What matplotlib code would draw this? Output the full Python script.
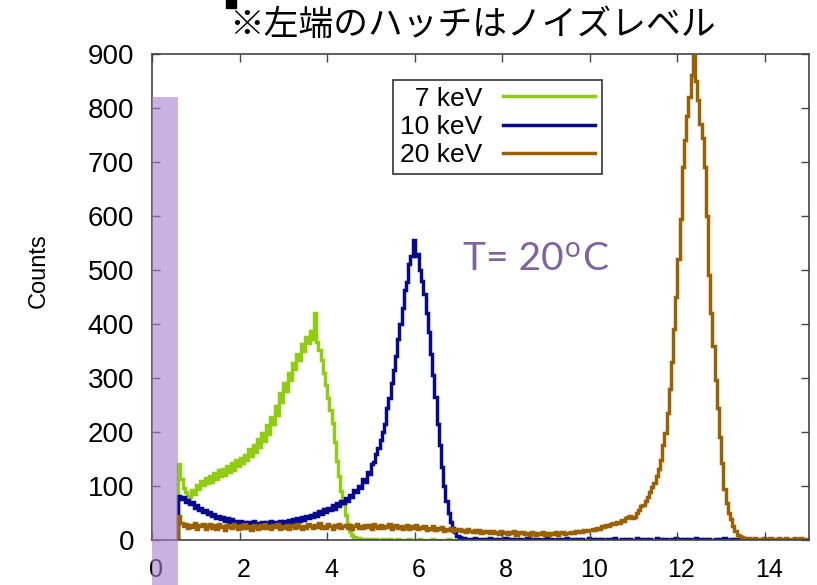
import numpy as np
import matplotlib
matplotlib.use("Agg")
import matplotlib.pyplot as plt
from matplotlib.patches import Rectangle
from matplotlib.transforms import ScaledTranslation

plt.rcParams['font.family'] = ['Liberation Sans', 'DejaVu Sans']

# histogram bins: 0.05 keV wide, first bin starts at 0.6 keV (noise cut)
bin_start = 0.6
bin_width = 0.05

# 7 keV spectrum, bins from 0.60 keV
counts_7kev = [
    140, 112, 96, 88, 82, 80, 92, 86, 102, 95, 110, 101, 114, 105, 118, 108,
    124, 113, 130, 118, 132, 120, 136, 125, 142, 130, 148, 136, 152, 142, 158, 148,
    168, 155, 176, 163, 186, 172, 198, 183, 212, 197, 228, 214, 248, 232, 272, 256,
    290, 276, 310, 296, 328, 316, 345, 334, 362, 350, 376, 364, 386, 372, 420, 366,
    352, 334, 310, 286, 262, 240, 216, 182, 146, 118, 90, 66, 46, 29, 16, 10,
    6, 4, 3, 2, 2, 1, 1, 1,
    1, 0, 1, 0, 0, 1, 0, 0, 1, 0, 0, 0, 1, 0, 0, 0, 0, 1, 0, 0,
    0, 0, 1, 0, 0, 0, 0, 0, 1, 0, 0, 0, 0, 0, 0, 1, 0, 0, 0, 0,
]

# 10 keV spectrum, bins from 0.60 keV
counts_10kev = [
    82, 76, 80, 70, 74, 66, 70, 60, 64, 56, 60, 52, 55, 48, 52, 44,
    48, 40, 45, 38, 42, 35, 40, 33, 38, 30, 36, 29, 35, 28, 34, 27,
    33, 28, 35, 26, 32, 28, 34, 27, 33, 29, 35, 28, 34, 30, 36, 29,
    35, 31, 37, 32, 38, 33, 40, 35, 42, 37, 44, 40, 47, 42, 50, 45,
    53, 48, 57, 52, 60, 55, 64, 58, 68, 63, 73, 68, 78, 72, 84, 80,
    92, 88, 100, 96, 112, 108, 125, 122, 140, 145, 160, 170, 185, 200, 215, 245,
    262, 290, 315, 340, 372, 400, 430, 462, 478, 510, 525, 555, 525, 530, 500, 480,
    455, 420, 385, 345, 305, 265, 215, 175, 135, 100, 72, 50, 33, 22, 14, 8,
    5, 4, 3, 2,
    2, 0, 1, 3, 0, 1, 0, 2, 0, 1, 4, 0, 1, 0, 2, 0, 0, 3, 1, 0,
    1, 0, 2, 0, 1, 0, 0, 3, 0, 1, 0, 2, 1, 0, 0, 1, 4, 0, 1, 0,
    0, 2, 0, 1, 0, 3, 0, 0, 1, 0, 2, 0, 1, 0, 0, 3, 0, 1, 0, 2,
    0, 1, 0, 0, 2, 0, 1, 4, 0, 0, 1, 0, 2, 0, 1, 0, 0, 3, 0, 1,
    0, 2, 0, 1, 0, 0, 3, 0, 1, 0, 2, 0, 0, 1, 0, 4, 0, 1, 0, 2,
    0, 1, 0, 0, 3, 0, 1, 0, 2, 0, 1, 0, 0, 2, 0, 1, 0, 3, 0, 0,
    1, 0, 2, 0, 1, 0,
]

# 20 keV spectrum, bins from 0.60 keV
counts_20kev = [
    45, 32, 26, 30, 22, 28, 24, 31, 21, 27, 25, 30, 20, 26, 29, 23,
    27, 21, 30, 24, 26, 19, 28, 24, 22, 29, 25, 20, 27, 23, 30, 22,
    26, 18, 28, 24, 21, 27, 23, 29, 22, 25, 20, 27, 24, 30, 21, 26,
    23, 28, 20, 25, 27, 22, 29, 24, 21, 26, 23, 30, 25, 22, 28, 24,
    31, 22, 26, 23, 29, 25, 21, 27, 24, 30, 22, 26, 28, 23, 27, 21,
    25, 29, 23, 26, 22, 28, 24, 27, 21, 30, 25, 23, 28, 22, 26, 24,
    29, 21, 25, 27, 22, 26, 20, 24, 27, 21, 25, 23, 28, 20, 24, 22,
    26, 19, 23, 21, 25, 18, 22, 20, 24, 17, 21, 19, 23, 16, 20, 18,
    21, 16, 19, 15, 20, 17, 14, 18, 15, 19, 13, 17, 14, 16, 12, 17,
    13, 15, 11, 16, 13, 15, 11, 14, 12, 16, 10, 14, 12, 15, 11, 13,
    10, 14, 12, 9, 13, 11, 14, 10, 12, 9, 13, 11, 14, 10, 12, 15,
    11, 13, 12, 15, 13, 16, 14, 17, 15, 18, 16, 19,
    18, 20, 19, 23, 21, 25, 24, 28, 26, 30, 31, 29, 34, 32, 37, 35,
    40, 42, 44, 41,
    43, 50, 55, 62, 64, 72, 80, 88, 98, 105, 118, 132, 148, 175, 198, 235,
    280, 330, 390, 450, 520, 595, 690, 740, 785, 820, 860, 896, 850, 815, 770, 745,
    690, 600, 490, 420, 360, 296, 245, 190, 142, 95, 68, 50, 38, 25, 16, 10,
    7, 5, 3,
    2, 3, 2, 2, 3, 2, 2, 2, 3, 2, 2, 3, 2, 2, 2, 3, 2, 2, 3, 2,
    2, 2, 3, 2, 2, 3, 2, 2, 2,
]

series = [
    ('7 keV', counts_7kev, '#8fcc12'),
    ('10 keV', counts_10kev, '#06088f'),
    ('20 keV', counts_20kev, '#9a6100'),
]

fig = plt.figure(figsize=(8.17, 5.85), dpi=100)
ax = fig.add_axes([0.186, 0.077, 0.804, 0.831])

for name, vals, col in series:
    edges = bin_start + bin_width * np.arange(len(vals) + 1)
    # pad labels so the numbers line up on the right like the original
    lab = '  ' + name if len(name) < 6 else name
    ax.stairs(vals, edges, color=col, lw=2.5, label=lab)

ax.set_xlim(0, 15)
ax.set_ylim(0, 900)
ax.set_xticks(np.arange(0, 15, 2))
ax.set_yticks(np.arange(0, 901, 100))
ax.tick_params(direction='in', length=6, width=1, color='#444444',
               top=True, right=True)
ax.tick_params(axis='y', labelsize=20, pad=13)
ax.tick_params(axis='x', labelsize=18, pad=13)
shift = ScaledTranslation(4 / 100, 0, fig.dpi_scale_trans)
for lbl in ax.get_xticklabels():
    lbl.set_transform(lbl.get_transform() + shift)
for s in ax.spines.values():
    s.set_color('#444444')
    s.set_linewidth(1.2)

leg = ax.legend(loc='upper left', bbox_to_anchor=(0.367, 0.946), fontsize=19,
                markerfirst=False, handlelength=3.5, handletextpad=0.8,
                labelspacing=0.16, borderpad=0.25, borderaxespad=0,
                fancybox=False, edgecolor='#333333', framealpha=1)
leg.get_frame().set_linewidth(1.2)

fig.text(0.047, 0.538, 'Counts', rotation=90, ha='center', va='center',
         fontsize=17)

fig.text(0.578, 0.956, '※左端のハッチはノイズレベル', ha='center', va='center',
         fontsize=25, family=['Noto Sans CJK JP', 'DejaVu Sans'])
fig.patches.append(Rectangle((0.277, 0.986), 0.012, 0.014,
                             transform=fig.transFigure, color='black'))

# temperature note, superscript o placed by hand
purple = '#7f63a1'
t1 = ax.text(7.1, 499, 'T= 20', fontsize=28, color=purple, family='Lato',
             va='baseline')
t2 = ax.annotate('o', xy=(1, 0), xycoords=t1, xytext=(1, 11),
                 textcoords='offset points', fontsize=20, color=purple,
                 family='Lato', ha='left', va='bottom')
ax.annotate('C', xy=(1, 0), xycoords=(t2, t1), xytext=(1, 0),
            textcoords='offset points', fontsize=28, color=purple,
            family='Lato', ha='left', va='bottom')

# noise-level hatch over the left end (drawn over everything)
fig.patches.append(Rectangle((0.186, 0.0), 0.032, 0.834,
                             transform=fig.transFigure, color='#a57fcb',
                             alpha=0.6, lw=0, zorder=10))

fig.savefig('out.png', dpi=100)
